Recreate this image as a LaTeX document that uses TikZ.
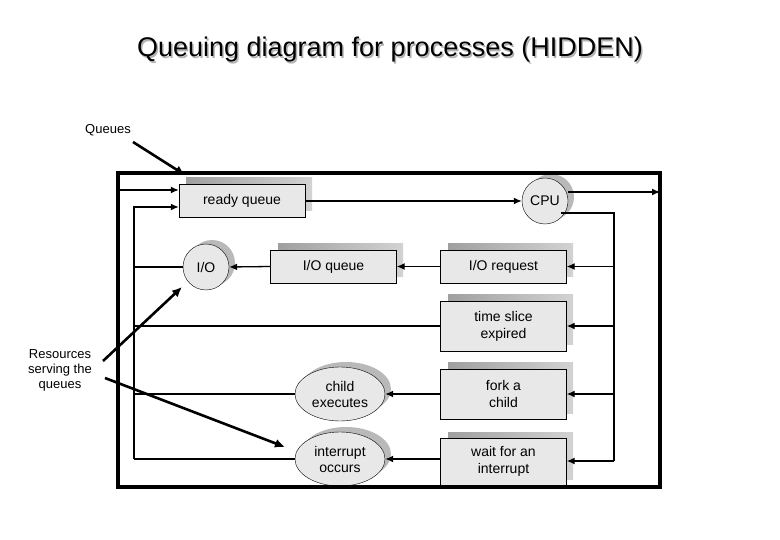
\documentclass[tikz,border=0pt]{standalone}
\usepackage{fontspec}
\setmainfont{Liberation Sans}
\usetikzlibrary{arrows.meta,shapes.geometric}
\begin{document}
\begin{tikzpicture}[x=1pt,y=-1pt,
  box/.style={draw,fill=gray!18,minimum width=126pt,align=center,font=\fontsize{14}{17}\selectfont,inner sep=0pt},
  circ/.style={draw,fill=gray!18,circle,minimum size=46pt,font=\fontsize{14}{16}\selectfont,inner sep=0pt},
  ell/.style={draw,fill=gray!18,ellipse,minimum width=90pt,minimum height=54pt,align=center,font=\fontsize{14}{16}\selectfont,inner sep=0pt},
  conn/.style={line width=1.3pt,-{Latex[length=8pt,width=7pt]}},
  line/.style={line width=1.3pt},
  ann/.style={line width=2.6pt,-{Latex[length=10pt,width=9pt]}},
  lab/.style={font=\fontsize{13}{15}\selectfont,align=center}]
\useasboundingbox (0,0) rectangle (780,540);
% title
\node[font=\fontsize{27}{32}\selectfont,text=gray!60] at (391.5,51.5) {Queuing diagram for processes (HIDDEN)};
\node (title) [font=\fontsize{27}{32}\selectfont] at (390,50) {Queuing diagram for processes (HIDDEN)};
% shadows
\foreach \a/\b/\c/\d in {179/184/305/217, 271/250/396/283, 441/250/566/283, 441/301/566/351, 441/369/566/419, 441/438/566/485}
  \shade[left color=gray!75,right color=gray!35] (\a+7,\b-6) rectangle (\c+7,\d-6);
\fill[gray!55] (551,197) circle (23);
\fill[gray!55] (212,263) circle (23);
\fill[gray!55] (346,389) ellipse (45 and 27);
\fill[gray!55] (346,454) ellipse (45 and 27);
% nodes
\node[box,minimum height=33pt] (rq) at (242,200.5) {ready queue};
\node[circ] (cpu) at (545,201) {CPU};
\node[circ] (io) at (206,267) {I/O};
\node[box,minimum height=33pt] (ioq) at (333.5,266.5) {I/O queue};
\node[box,minimum height=33pt] (ior) at (503.5,266.5) {I/O request};
\node[box,minimum height=50pt] (ts) at (503.5,326) {time slice\\expired};
\node[box,minimum height=50pt] (fork) at (503.5,394) {fork a\\child};
\node[box,minimum height=47pt] (wait) at (503.5,461.5) {wait for an\\interrupt};
\node[ell] (child) at (340,394) {child\\executes};
\node[ell] (intr) at (340,459) {interrupt\\occurs};
% coordinates
\coordinate (inL) at (118,190);
\coordinate (outR) at (660,192);
\coordinate (cpuR) at (614,213);
\coordinate (rB) at (614,461);
\coordinate (lT) at (134,207);
\coordinate (lB) at (134,459);
% connectors
\draw[conn] (inL) -- (rq.west |- inL);
\draw[conn] (rq.east |- cpu.west) -- (cpu.west);
\draw[conn] (cpu.east |- outR) -- (outR);
\draw[line] (cpu.south east |- cpuR) -- (cpuR) -- (rB);
\draw[conn] (cpuR |- ior.east) -- (ior.east);
\draw[conn] (cpuR |- ts.east) -- (ts.east);
\draw[conn] (cpuR |- fork.east) -- (fork.east);
\draw[conn] (rB) -- (wait.east |- rB);
\draw[conn] (ior.west) -- (ioq.east);
\draw[conn] (ioq.west) -- (io.east);
\draw[conn] (fork.west) -- (child.east);
\draw[conn] (wait.west |- intr.east) -- (intr.east);
\draw[line] (intr.west) -- (lB);
\draw[conn] (lB) -- (lT) -- (rq.west |- lT);
\draw[line] (io.west) -- (io.west -| lB);
\draw[line] (ts.west) -- (ts.west -| lB);
\draw[line] (child.west) -- (child.west -| lB);
% frame
\draw[line width=4pt] (118,173) rectangle (660,487);
% annotations
\node[lab] (q) at (108,130) {Queues};
\node[lab] (res) at (60,370) {Resources\\serving the\\queues};
\draw[ann] (133,142) -- (185,175);
\draw[ann] (103,361) -- (182,287);
\draw[ann] (105,378) -- (285,447);
\end{tikzpicture}
\end{document}
